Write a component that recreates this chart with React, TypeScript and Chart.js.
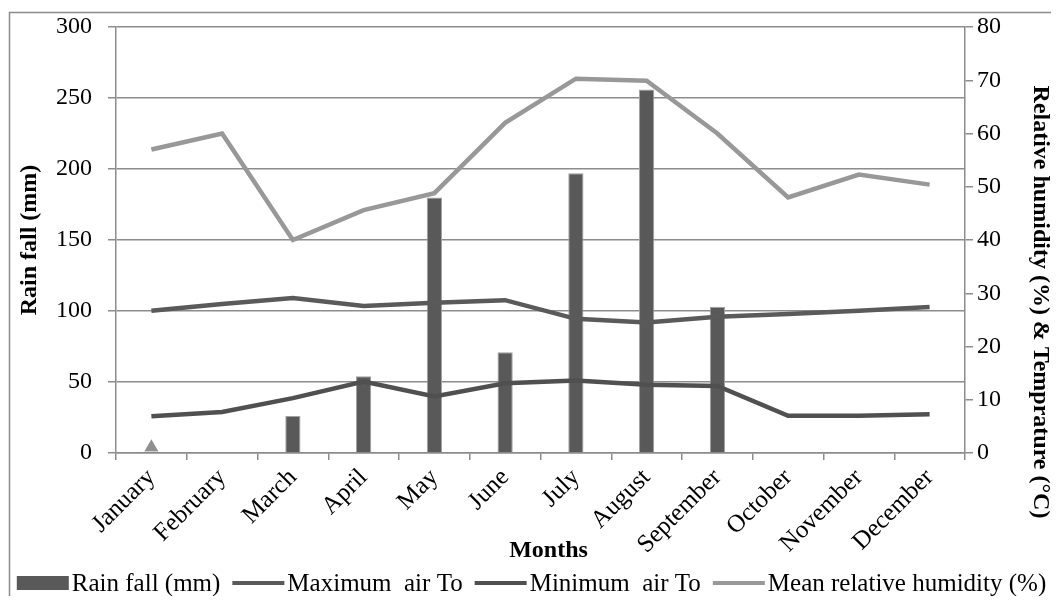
import React, { useEffect, useRef } from "react";
import { Chart, registerables } from "chart.js";

Chart.register(...registerables);

const months = [
  "January", "February", "March", "April", "May", "June",
  "July", "August", "September", "October", "November", "December",
];
const rainfall = [1, 0, 26, 54, 180, 71, 197, 256, 103, 0, 0, 0];
const maxTemp = [26.7, 28, 29.1, 27.6, 28.2, 28.7, 25.2, 24.5, 25.6, 26.1, 26.7, 27.4];
const minTemp = [6.9, 7.7, 10.3, 13.4, 10.6, 13.1, 13.6, 12.8, 12.6, 7, 7, 7.3];
const humidity = [57, 60, 40, 45.6, 48.8, 62, 70.3, 69.9, 60, 48, 52.3, 50.4];
const januaryMarker = [1.1, null, null, null, null, null, null, null, null, null, null, null];

const leftMax = 300;
const leftStep = 50;
const rightMax = 80;
const rightStep = 10;

const seriesNames = [
  "Rain fall (mm)",
  "Maximum  air To",
  "Minimum  air To",
  "Mean relative humidity (%)",
];

const FONT = "'Liberation Serif', 'Times New Roman', Times, serif";
const GRID = "#8c8c8c";

const decorPlugin = {
  id: "decor",
  afterDraw(chart: any) {
    const ctx = chart.ctx as CanvasRenderingContext2D;
    const area = chart.chartArea;
    ctx.save();
    // outer border
    ctx.strokeStyle = GRID;
    ctx.lineWidth = 1.5;
    ctx.strokeRect(1.5, 4.5, 3000, 3000);

    ctx.fillStyle = "#000";
    ctx.font = `bold 24px ${FONT}`;
    ctx.textAlign = "center";
    ctx.textBaseline = "middle";
    // x title
    ctx.fillText("Months", (area.left + area.right) / 2 + 8, 543);
    // left title
    ctx.save();
    ctx.translate(22, (area.top + area.bottom) / 2);
    ctx.rotate(-Math.PI / 2);
    ctx.fillText("Rain fall (mm)", 0, 0);
    ctx.restore();
    // right title
    ctx.save();
    ctx.translate(1032, 294);
    ctx.rotate(Math.PI / 2);
    ctx.fillText("Relative humidity (%) & Temprature (\u00B0C)", 0, 0);
    ctx.restore();

    // legend
    ctx.font = `25px ${FONT}`;
    ctx.textAlign = "left";
    const sym = 52;
    const gapAfterSym = 3;
    const gapAfterText = 12;
    const items = chart.data.datasets.filter((d: any) => d.inLegend);
    let total = 0;
    items.forEach((d: any, i: number) => {
      total += sym + gapAfterSym + ctx.measureText(d.label).width;
      if (i < items.length - 1) total += gapAfterText;
    });
    let x = (chart.width - total) / 2 - 2;
    const y = 575;
    items.forEach((d: any) => {
      if (d.type === "bar") {
        ctx.fillStyle = d.backgroundColor;
        ctx.fillRect(x, y - 7, sym, 14);
      } else {
        ctx.strokeStyle = d.borderColor;
        ctx.lineWidth = 4;
        ctx.beginPath();
        ctx.moveTo(x, y);
        ctx.lineTo(x + sym, y);
        ctx.stroke();
      }
      x += sym + gapAfterSym;
      ctx.fillStyle = "#000";
      ctx.fillText(d.label, x, y + 1);
      x += ctx.measureText(d.label).width + gapAfterText;
    });
    ctx.restore();
  },
};

export default function App() {
  const ref = useRef<HTMLCanvasElement | null>(null);

  useEffect(() => {
    if (!ref.current) return;
    const tickFont = { family: FONT, size: 24 };
    const xFont = { family: FONT, size: 25 };
    const chart = new Chart(ref.current, {
      type: "bar",
      data: {
        labels: months,
        datasets: [
          {
            type: "bar",
            label: seriesNames[0],
            data: rainfall,
            backgroundColor: "#595959",
            borderColor: "#a0a0a0",
            borderWidth: 1,
            yAxisID: "y",
            order: 5,
            categoryPercentage: 1,
            barPercentage: 0.215,
            inLegend: true,
          } as any,
          {
            type: "line",
            label: seriesNames[1],
            data: maxTemp,
            borderColor: "#5a5a5a",
            borderWidth: 4.5,
            pointRadius: 0,
            tension: 0,
            yAxisID: "y1",
            order: 3,
            inLegend: true,
          } as any,
          {
            type: "line",
            label: seriesNames[2],
            data: minTemp,
            borderColor: "#505050",
            borderWidth: 4.5,
            pointRadius: 0,
            tension: 0,
            yAxisID: "y1",
            order: 2,
            inLegend: true,
          } as any,
          {
            type: "line",
            label: seriesNames[3],
            data: humidity,
            borderColor: "#989898",
            borderWidth: 4.5,
            pointRadius: 0,
            tension: 0,
            yAxisID: "y1",
            order: 1,
            inLegend: true,
          } as any,
          {
            type: "line",
            label: "marker",
            data: januaryMarker,
            showLine: false,
            pointStyle: "triangle",
            pointRadius: 8,
            pointBackgroundColor: "#8f8f8f",
            pointBorderColor: "#8f8f8f",
            pointBorderWidth: 0,
            yAxisID: "y1",
            order: 0,
            inLegend: false,
          } as any,
        ],
      },
      options: {
        animation: false,
        responsive: false,
        maintainAspectRatio: false,
        layout: { padding: { top: 19, left: 0, right: 0, bottom: 0 } },
        plugins: {
          legend: { display: false },
          tooltip: { enabled: false },
          title: { display: false },
        },
        scales: {
          x: {
            offset: true,
            grid: {
              display: true,
              drawOnChartArea: false,
              offset: true,
              tickLength: 7,
              color: GRID,
              lineWidth: 1.5,
            },
            border: { display: true, color: GRID, width: 1.5 },
            ticks: {
              font: xFont,
              color: "#000",
              maxRotation: 45,
              minRotation: 45,
              autoSkip: false,
              padding: 3,
            },
            afterFit: (s: any) => {
              s.height = 143;
              s.paddingLeft = 0;
              s.paddingRight = 0;
            },
          },
          y: {
            position: "left",
            min: 0,
            max: leftMax,
            ticks: { stepSize: leftStep, font: tickFont, color: "#000", padding: 16 },
            grid: { color: GRID, lineWidth: 1.5, tickLength: 8 },
            border: { display: true, color: GRID, width: 1.5 },
            afterFit: (s: any) => {
              s.width = 108;
              s.paddingTop = 0;
              s.paddingBottom = 0;
            },
          },
          y1: {
            position: "right",
            min: 0,
            max: rightMax,
            ticks: { stepSize: rightStep, font: tickFont, color: "#000", padding: 4 },
            grid: { drawOnChartArea: false, color: GRID, lineWidth: 1.5, tickLength: 8 },
            border: { display: true, color: GRID, width: 1.5 },
            afterFit: (s: any) => {
              s.width = 94;
              s.paddingTop = 0;
              s.paddingBottom = 0;
            },
          },
        },
      } as any,
      plugins: [decorPlugin],
    });
    return () => chart.destroy();
  }, []);

  return (
    <div style={{ width: 1051, height: 588 }}>
      <canvas ref={ref} width={1051} height={588} style={{ display: "block", width: 1051, height: 588 }} />
    </div>
  );
}
